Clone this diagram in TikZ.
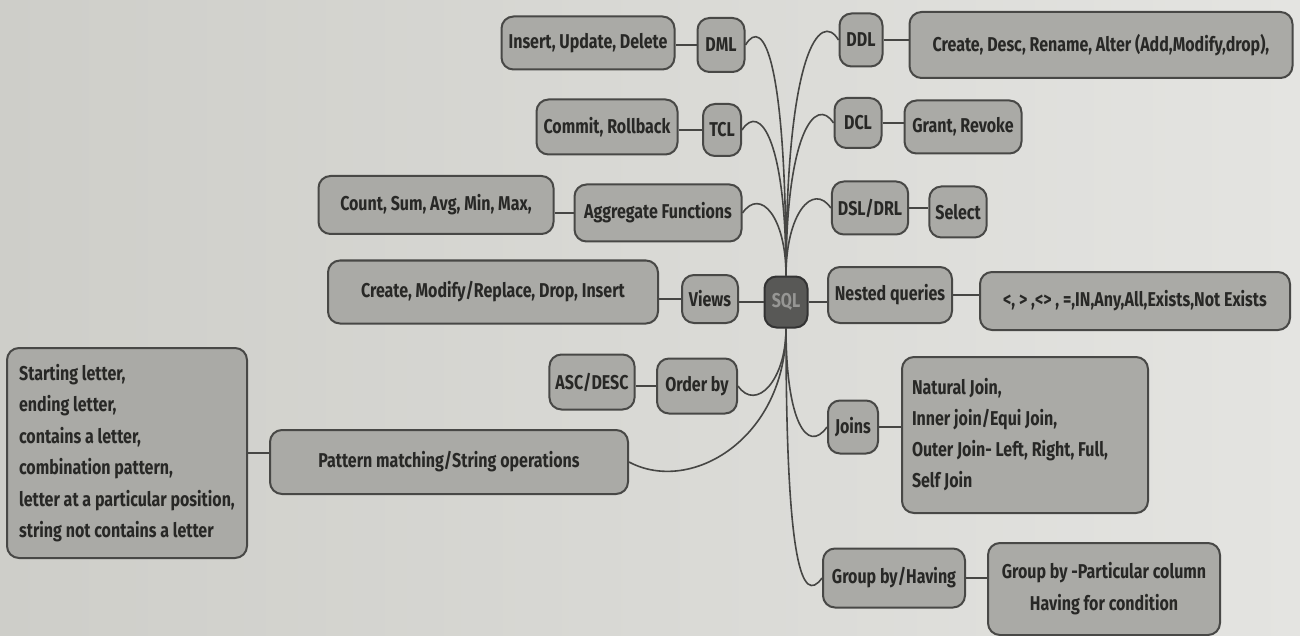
\documentclass[tikz,border=0pt]{standalone}
\usepackage{fontspec}
\setmainfont{Fira Sans}[FakeStretch=0.8]

\definecolor{paper}{RGB}{228,228,225}
\definecolor{paperdark}{RGB}{206,206,201}
\definecolor{boxfill}{RGB}{170,170,166}
\definecolor{boxline}{RGB}{72,72,70}
\definecolor{wirecol}{RGB}{70,70,68}
\definecolor{ink}{RGB}{40,40,38}
\definecolor{rootfill}{RGB}{88,88,86}
\definecolor{roottext}{RGB}{150,150,148}

\tikzset{
	box/.style={draw=boxline, fill=boxfill, line width=1pt, rounded corners=6pt, text=ink, inner xsep=3pt, inner ysep=2pt, font=\bfseries\fontsize{10}{12}\selectfont},
	root/.style={box, fill=rootfill, draw=black!80, text=roottext},
	wire/.style={draw=wirecol, line width=0.8pt},
}

\begin{document}
\begin{tikzpicture}[x=0.5pt,y=-0.5pt]
			%%%%% START %%%%%
			
			\shade[left color=paperdark, right color=paper] (0,0) rectangle (1300,636);
			\useasboundingbox (0,0) rectangle (1300,636);
			
			\node[root, minimum width=21.5pt, minimum height=25.5pt] (sql) at (786,302) {SQL};
			
			% left side
			\node[box, minimum width=86.5pt, minimum height=26.5pt] (dmlops) at (588,43) {Insert, Update, Delete};
			\node[box, minimum width=23.5pt, minimum height=27pt] (dml) at (721,45) {DML};
			\node[box, minimum width=70.5pt, minimum height=27.5pt] (tclops) at (607,127) {Commit, Rollback};
			\node[box, minimum width=19pt, minimum height=26pt] (tcl) at (722,130) {TCL};
			\node[box, minimum width=117.5pt, minimum height=29pt] (aggops) at (436,205) {Count, Sum, Avg, Min, Max,};
			\node[box, minimum width=83.5pt, minimum height=28.5pt] (agg) at (658,213) {Aggregate Functions};
			\node[box, minimum width=165pt, minimum height=31.5pt] (viewops) at (493,292) {Create, Modify/Replace, Drop, Insert};
			\node[box, minimum width=28pt, minimum height=24pt] (views) at (710,299) {Views};
			\node[box, minimum width=42.5pt, minimum height=27.5pt] (ascdesc) at (592,382) {ASC/DESC};
			\node[box, minimum width=40pt, minimum height=27.5pt] (order) at (697,386) {Order by};
			\node[box, minimum width=179pt, minimum height=32pt] (pattern) at (449,462) {Pattern matching/String operations};
			\node[box, align=flush left, minimum width=120pt, minimum height=105pt, font=\bfseries\fontsize{10}{15.75}\selectfont] (letters) at (127,453) {Starting letter,\\ending letter,\\contains a letter,\\combination pattern,\\letter at a particular position,\\string not contains a letter};
			
			% right side
			\node[box, minimum width=21.5pt, minimum height=26.5pt] (ddl) at (861,40) {DDL};
			\node[box, minimum width=191.5pt, minimum height=33pt] (ddlops) at (1101,45) {Create, Desc, Rename, Alter (Add,Modify,drop),};
			\node[box, minimum width=23.5pt, minimum height=25pt] (dcl) at (858,123) {DCL};
			\node[box, minimum width=58.5pt, minimum height=26.5pt] (dclops) at (963,127) {Grant, Revoke};
			\node[box, minimum width=37.5pt, minimum height=26.5pt] (dsl) at (870,208) {DSL/DRL};
			\node[box, minimum width=28.5pt, minimum height=25.5pt] (select) at (958,212) {Select};
			\node[box, minimum width=62pt, minimum height=28pt] (nested) at (890,295) {Nested queries};
			\node[box, minimum width=155pt, minimum height=29pt] (nestops) at (1135,301) {<, > ,<> , =,IN,Any,All,Exists,Not Exists};
			\node[box, minimum width=25pt, minimum height=26.5pt] (joins) at (853,427) {Joins};
			\node[box, inner xsep=5pt, text width=113pt, align=flush left, minimum height=78pt, font=\bfseries\fontsize{10}{15.5}\selectfont] (joinkinds) at (1025,435) {Natural Join,\\Inner join/Equi Join,\\Outer Join- Left, Right, Full,\\Self Join};
			\node[box, minimum width=71pt, minimum height=29.5pt] (group) at (894,578) {Group by/Having};
			\node[box, align=center, minimum width=116pt, minimum height=46pt, font=\bfseries\fontsize{10}{16}\selectfont] (groupops) at (1104,589) {Group by -Particular column\\Having for condition};
			
			% branches out of SQL
			\draw[wire] (sql.north) .. controls +(0,-215) and +(18,-30) .. (dml.east);
			\draw[wire] (sql.north) .. controls +(0,-135) and +(18,-28) .. (tcl.east);
			\draw[wire] (sql.north) .. controls +(0,-58) and +(18,-26) .. (agg.east);
			\draw[wire] (sql.north) .. controls +(0,-225) and +(-18,-30) .. (ddl.west);
			\draw[wire] (sql.north) .. controls +(0,-142) and +(-18,-28) .. (dcl.west);
			\draw[wire] (sql.north) .. controls +(0,-62) and +(-18,-26) .. (dsl.west);
			\draw[wire] (sql.south) .. controls +(0,52) and +(18,26) .. (order.east);
			\draw[wire] (sql.south) .. controls +(0,110) and +(62,33) .. (pattern.east);
			\draw[wire] (sql.south) .. controls +(0,92) and +(-20,28) .. (joins.west);
			\draw[wire] (sql.south) .. controls +(0,235) and +(-20,28) .. (group.west);
			\draw[wire] (sql.west) -- (sql.west -| views.east);
			\draw[wire] (sql.east) -- (sql.east -| nested.west);
			
			% leaves
			\draw[wire] (dml.west) -- (dml.west -| dmlops.east);
			\draw[wire] (tcl.west) -- (tcl.west -| tclops.east);
			\draw[wire] (agg.west) -- (agg.west -| aggops.east);
			\draw[wire] (views.west) -- (views.west -| viewops.east);
			\draw[wire] (order.west) -- (order.west -| ascdesc.east);
			\draw[wire] (letters.east) -- (letters.east -| pattern.west);
			\draw[wire] (ddl.east) -- (ddl.east -| ddlops.west);
			\draw[wire] (dcl.east) -- (dcl.east -| dclops.west);
			\draw[wire] (dsl.east) -- (dsl.east -| select.west);
			\draw[wire] (nested.east) -- (nested.east -| nestops.west);
			\draw[wire] (joins.east) -- (joins.east -| joinkinds.west);
			\draw[wire] (group.east) -- (group.east -| groupops.west);
			
			%%%%% END %%%%%
\end{tikzpicture}
\end{document}
